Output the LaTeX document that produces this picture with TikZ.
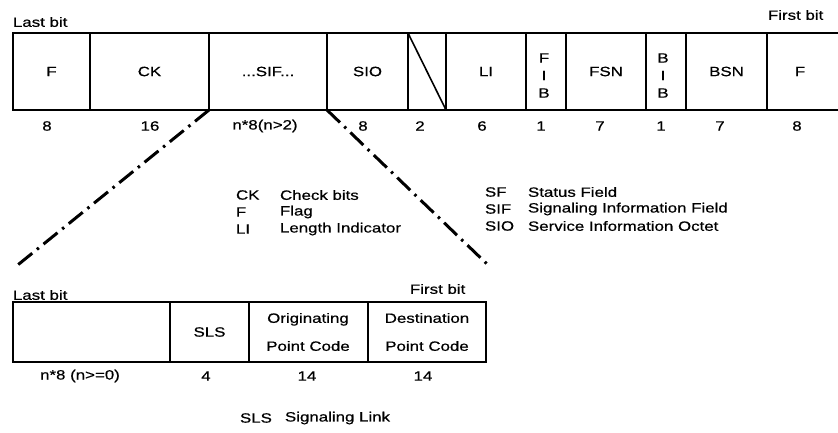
\documentclass[tikz,border=0pt]{standalone}
\usepackage{fontspec}
\setmainfont{Liberation Sans}[FakeStretch=1.25,FakeBold=0.6]
\begin{document}
\begin{tikzpicture}[x=1pt,y=-1pt,
  every node/.style={font=\fontsize{13.5}{17}\selectfont, inner sep=0pt, outer sep=0pt},
  fld/.style={draw, line width=1.6pt, minimum height=77pt},
  bfld/.style={draw, line width=1.6pt, minimum height=60pt},
  stack/.style={align=center, font=\fontsize{13.5}{17.5}\selectfont},
  two/.style={align=center, font=\fontsize{13.5}{28}\selectfont},
  dd/.style={line width=3pt, dash pattern=on 18pt off 6pt on 2.5pt off 6pt},
  lg/.style={anchor=west}]
\clip (0,0) rectangle (838,432);
\fill[white] (0,0) rectangle (838,432);
% top frame
\node[fld, minimum width=77pt] (f1) at (51.5,71.5) {F};
\node[fld, minimum width=119pt] (ck) at (149.5,71.5) {CK};
\node[fld, minimum width=118pt] (sif) at (268,71.5) {...SIF...};
\node[fld, minimum width=81pt] (sio) at (367.5,71.5) {SIO};
\node[fld, minimum width=38pt] (bl) at (427,71.5) {};
\node[fld, minimum width=80pt] (li) at (486,71.5) {LI};
\node[fld, minimum width=40pt] (fib) at (546,71.5) {};
\node[fld, minimum width=80pt] (fsn) at (606,71.5) {FSN};
\node[fld, minimum width=40pt] (bib) at (666,71.5) {};
\node[fld, minimum width=81pt] (bsn) at (726.5,71.5) {BSN};
\node[fld, minimum width=103pt] (f2) at (818.5,71.5) {};
\node (f2t) at (800,71.5) {F};
\node[stack] (fibt) at (544,75.5) {F\\I\\B};
\node[stack] (bibt) at (663,75.5) {B\\I\\B};
\draw[line width=1.6pt] (bl.north west) -- (bl.south east);
\node[lg] (lbt) at (13,22) {Last bit};
\node[lg] (fbt) at (768,15) {First bit};
% numbers
\node (n1) at (47,126) {8};
\node (n2) at (150,126) {16};
\node (n3) at (265,126) {n*8(n>2)};
\node (n4) at (363,126) {8};
\node (n5) at (420,126) {2};
\node (n6) at (482,126) {6};
\node (n7) at (541,126) {1};
\node (n8) at (600,126) {7};
\node (n9) at (661,126) {1};
\node (n10) at (720,126) {7};
\node (n11) at (797,126) {8};
% connectors
\coordinate (l1) at (14,268);
\coordinate (r1) at (488,265);
\draw[dd] (sif.south west) -- (l1);
\draw[dd] (sif.south east) -- (r1);
% legend 1
\node[lg] (a1) at (236,195) {CK};
\node[lg] (a2) at (236,212) {F};
\node[lg] (a3) at (236,229) {LI};
\node[lg] (d1) at (280,195) {Check bits};
\node[lg] (d2) at (280,212) {Flag};
\node[lg] (d3) at (280,229) {Length Indicator};
% legend 2
\node[lg] (b1) at (485,192) {SF};
\node[lg] (b2) at (485,209) {SIF};
\node[lg] (b3) at (485,226) {SIO};
\node[lg] (e1) at (528,192) {Status Field};
\node[lg] (e2) at (528,209) {Signaling Information Field};
\node[lg] (e3) at (528,226) {Service Information Octet};
% bottom frame
\node[bfld, minimum width=157pt] (x1) at (91.5,332) {};
\node[bfld, minimum width=79pt] (sls) at (209.5,332) {SLS};
\node[bfld, minimum width=119pt] (opc) at (308.5,332) {};
\node[bfld, minimum width=118pt] (dpc) at (427,332) {};
\node[two] (opct) at (308,332) {Originating\\Point Code};
\node[two] (dpct) at (427,332) {Destination\\Point Code};
\node[lg] (lbb) at (13,295) {Last bit};
\node[lg] (fbb) at (410,289) {First bit};
\node (m1) at (80,376) {n*8 (n>=0)};
\node (m2) at (206,376) {4};
\node (m3) at (307,376) {14};
\node (m4) at (423,376) {14};
\node[lg] (s1) at (240,418) {SLS};
\node[lg] (s2) at (285,418) {Signaling Link};
\end{tikzpicture}
\end{document}
